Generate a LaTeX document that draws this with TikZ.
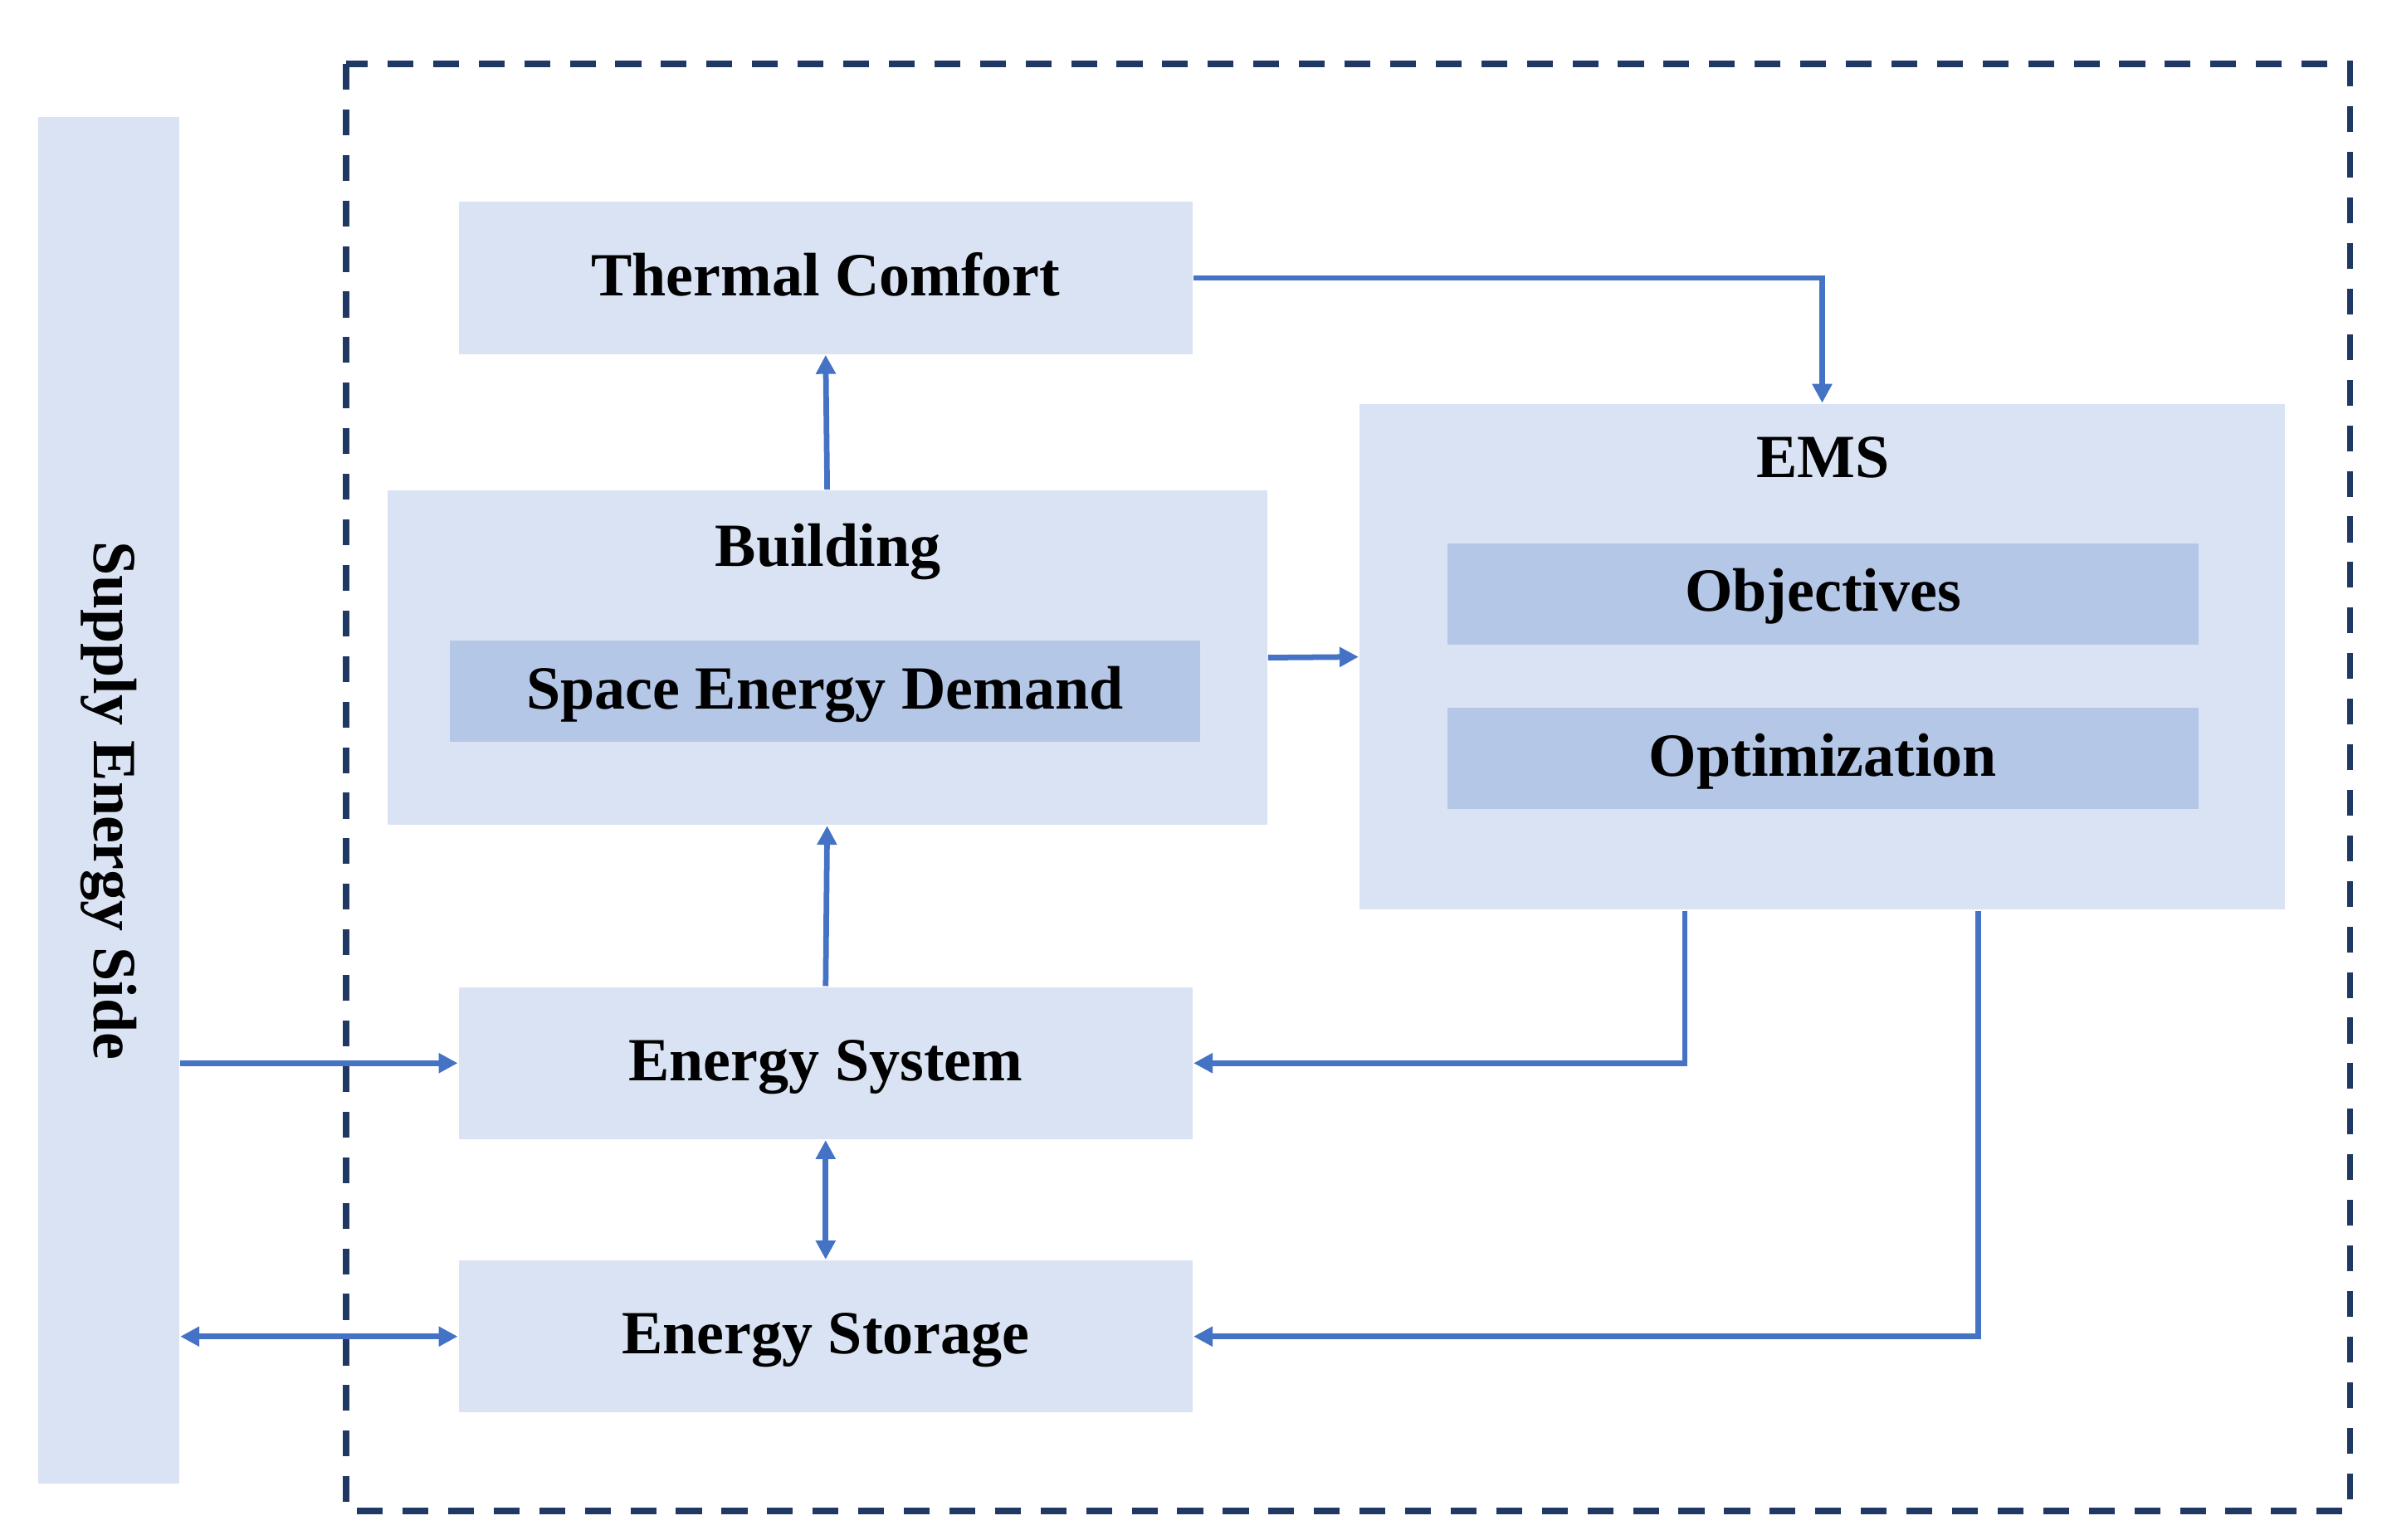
\documentclass[tikz,border=0pt]{standalone}
\usepackage{fontspec}
\setmainfont{Liberation Serif}
\usepackage{graphicx}
\usetikzlibrary{arrows.meta}

\definecolor{boxfill}{HTML}{DAE3F3}
\definecolor{innerfill}{HTML}{B4C7E7}
\definecolor{linkblue}{HTML}{4472C4}
\definecolor{frameblue}{HTML}{203864}

\begin{document}
\begin{tikzpicture}[x=0.1mm,y=-0.1mm,
    every node/.style={font=\fontsize{11.5}{14}\selectfont\bfseries},
    caps/.style={text height=0.66em,text depth=0pt},
    block/.style={caps,fill=boxfill,inner sep=0pt,minimum width=4.83cm,minimum height=1.0cm},
    subblock/.style={caps,fill=innerfill,inner sep=0pt,minimum width=4.94cm,minimum height=0.665cm},
    link/.style={draw=linkblue,line width=1.05pt,-{Triangle[length=1.25mm,width=1.25mm]}},
    duallink/.style={link,{Triangle[length=1.25mm,width=1.25mm]}-{Triangle[length=1.25mm,width=1.25mm]}}]
    \useasboundingbox (0,0) rectangle (1568,1014);
    \draw[frameblue,line width=1.2pt,dash pattern=on 1.7mm off 1.3mm] (228,42) rectangle (1547,995);

    \node[fill=boxfill,inner sep=0pt,minimum width=0.93cm,minimum height=9cm] (supply) at (71.5,527) {\rotatebox{-90}{Supply Energy Side}};
    \node[block] (thermal) at (543.5,183) {Thermal Comfort};
    \node[fill=boxfill,inner sep=0pt,minimum width=5.79cm,minimum height=2.2cm] (building) at (544.5,433) {};
    \node[caps] (buildlabel) at (545,361) {Building};
    \node[subblock] (demand) at (543,455) {Space Energy Demand};
    \node[fill=boxfill,inner sep=0pt,minimum width=6.09cm,minimum height=3.33cm] (ems) at (1199.5,432.5) {};
    \node[caps] (emslabel) at (1200,303) {EMS};
    \node[subblock] (objectives) at (1200,391) {Objectives};
    \node[subblock] (optimization) at (1200,499.5) {Optimization};
    \node[block] (esys) at (543.5,700) {Energy System};
    \node[block] (estor) at (543.5,880) {Energy Storage};

    \draw[link] (building.north) -- (thermal.south);
    \draw[link] (thermal.east) -| (ems.north);
    \draw[link] (building.east) -- (ems.west);
    \draw[link] (esys.north) -- (building.south);
    \draw[link] ([xshift=-9.05mm]ems.south) |- (esys.east);
    \draw[link] ([xshift=10.25mm]ems.south) |- (estor.east);
    \draw[duallink] (esys.south) -- (estor.north);
    \draw[link] (supply.east |- esys.west) -- (esys.west);
    \draw[duallink] (supply.east |- estor.west) -- (estor.west);
  \end{tikzpicture}
\end{document}
